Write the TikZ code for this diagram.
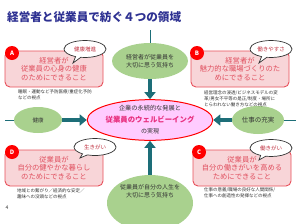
\documentclass[tikz,border=0pt]{standalone}
\usepackage{fontspec}
\setmainfont{Noto Sans CJK JP}
\usetikzlibrary{shapes.geometric,shapes.callouts,arrows.meta}
\definecolor{navy}{HTML}{2E3192}
\definecolor{teal2}{HTML}{1D6E78}
\definecolor{leaf}{HTML}{A9D18E}
\definecolor{boxfill}{HTML}{F8D5D8}
\definecolor{boxline}{HTML}{E8505B}
\definecolor{boxtext}{HTML}{E0505F}
\definecolor{centfill}{HTML}{FFCCFF}
\definecolor{magen}{HTML}{E8307F}
\definecolor{darktxt}{HTML}{333333}
\definecolor{bubtxt}{HTML}{C0303F}
\tikzset{
  pbox/.style={draw=boxline, line width=0.9pt, fill=boxfill, rounded corners=5pt,
    minimum width=98pt, minimum height=36pt, align=center, text=boxtext,
    font=\fontsize{7.3}{8.6}\selectfont, inner sep=1pt},
  badge/.style={circle, fill=red, text=white, minimum size=14pt, inner sep=0pt,
    font=\fontsize{6}{6}\selectfont\bfseries},
  bubble/.style={ellipse callout, draw=darktxt, line width=0.7pt, fill=white,
    minimum width=42pt, minimum height=17pt, inner sep=0pt, text=bubtxt,
    font=\fontsize{5.5}{6}\selectfont},
  greenoval/.style={ellipse, fill=leaf, inner sep=0pt, align=center, text=darktxt},
  note/.style={anchor=north west, align=left, text=darktxt, inner sep=0pt,
    font=\fontsize{4.5}{6}\selectfont},
  thin/.style={draw=teal2, line width=1pt},
  bigarrow/.style={draw=teal2, line width=3.5pt, -{Triangle[length=7pt,width=11pt]}}
}
\begin{document}
\begin{tikzpicture}[x=1pt,y=-1pt]
\useasboundingbox[fill=white] (0,0) rectangle (300,223);
\node[anchor=west, text=navy, font=\fontsize{11.6}{12}\selectfont\bfseries, inner sep=0pt] (title) at (7,17) {経営者と従業員で紡ぐ４つの領域};

% green ovals and center
\node[greenoval, minimum width=76pt, minimum height=36pt, font=\fontsize{6}{7.5}\selectfont] (top) at (150,61) {経営者が従業員を\\大切に思う気持ち};
\node[greenoval, minimum width=86pt, minimum height=56pt] (bot) at (150,203) {};
\node[align=center, text=darktxt, inner sep=0pt, font=\fontsize{6}{7.5}\selectfont] (bottxt) at (150,191) {従業員が自分の人生を\\大切に思う気持ち};
\node[greenoval, minimum width=48pt, minimum height=26pt, font=\fontsize{5.5}{6}\selectfont] (kenko) at (38,120) {健康};
\node[greenoval, minimum width=52pt, minimum height=28pt, font=\fontsize{6.5}{7}\selectfont] (shigoto) at (258,120) {仕事の充実};
\node[ellipse, draw=red, line width=1pt, fill=centfill, minimum width=104pt, minimum height=40pt, inner sep=0pt, align=center] (cent) at (150,120)
 {{\fontsize{6.2}{7.5}\selectfont\color{darktxt}企業の永続的な発展と}\\[-0.5pt]{\fontsize{7.4}{8.5}\selectfont\bfseries\color{magen}従業員のウェルビーイング}\\[-0.5pt]{\fontsize{6}{7}\selectfont\color{darktxt}の実現}};

% thin lines
\coordinate (tend) at (150,30);
\coordinate (lend) at (5,120);
\coordinate (rend) at (296,120);
\draw[thin] (tend) -- (top.north);
\draw[thin] (lend) -- (kenko.west);
\draw[thin] (shigoto.east) -- (rend);

% arrows
\draw[bigarrow] (top.south) -- (cent.north);
\draw[bigarrow] (bot.north) -- (cent.south);
\draw[bigarrow] (kenko.east) -- (cent.west);
\draw[bigarrow] (shigoto.west) -- (cent.east);

% boxes
\node[pbox] (boxA) at (54,69) {経営者が\\従業員の心身の健康\\のためにできること};
\node[pbox] (boxB) at (240,69) {経営者が\\魅力的な職場づくりのた\\めにできること};
\node[pbox] (boxD) at (54,168) {従業員が\\自分の健やかな暮らし\\のためにできること};
\node[pbox] (boxC) at (242,168) {従業員が\\自分の働きがいを高める\\ためにできること};

\node[badge] (bA) at (12,53) {A};
\node[badge] (bB) at (197,53) {B};
\node[badge] (bD) at (12,152) {D};
\node[badge] (bC) at (199,152) {C};

\node[bubble, callout absolute pointer={(73,63)}] (cA) at (85,49) {健康増進};
\node[bubble, callout absolute pointer={(259,63)}] (cB) at (271,49) {働きやすさ};
\node[bubble, callout absolute pointer={(80,158)}] (cD) at (95,147) {生きがい};
\node[bubble, callout absolute pointer={(259,160)}] (cC) at (271,148) {働きがい};

% notes
\node[note] (nA) at (18,90) {睡眠・運動など予防医療/重症化予防\\などの視点};
\node[note] (nB) at (204,90) {経営理念の浸透/ビジネスモデルの変\\革/男女不平等の是正/制度・場所に\\とらわれない働き方などの視点};
\node[note] (nD) at (17,188) {地域との繋がり／経済的な安定／\\趣味への没頭などの視点};
\node[note] (nC) at (204,188) {仕事の意義/職場の良好な人間関係/\\仕事への創造性の発揮などの視点};

\node[text=darktxt, font=\fontsize{5}{5}\selectfont, inner sep=0pt] (pg) at (7,208) {4};
\end{tikzpicture}
\end{document}
